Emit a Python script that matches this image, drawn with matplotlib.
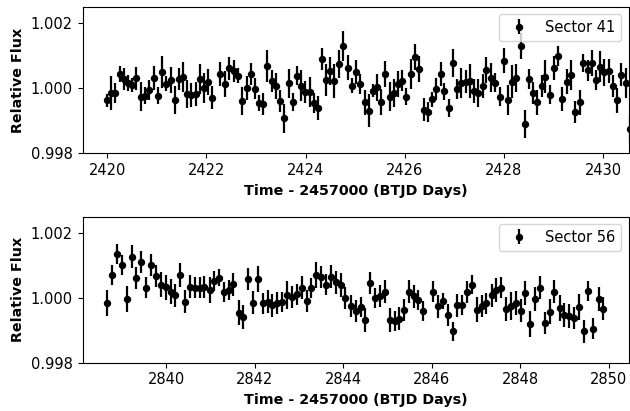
import numpy as np
import matplotlib
matplotlib.use("Agg")
import matplotlib.pyplot as plt

# Sector 41
t41 = [2420.00, 2420.07, 2420.16, 2420.25, 2420.33, 2420.41, 2420.50, 2420.58, 2420.68, 2420.77,
       2420.85, 2420.94, 2421.02, 2421.11, 2421.19, 2421.28, 2421.36, 2421.44, 2421.53, 2421.61,
       2421.69, 2421.78, 2421.87, 2421.95, 2422.03, 2422.12, 2422.28, 2422.38, 2422.46, 2422.55,
       2422.63, 2422.72, 2422.81, 2422.89, 2422.97, 2423.06, 2423.15, 2423.23, 2423.32, 2423.40,
       2423.49, 2423.57, 2423.66, 2423.74, 2423.83, 2423.91, 2423.99, 2424.08, 2424.16, 2424.25,
       2424.33, 2424.42, 2424.50, 2424.58, 2424.67, 2424.76, 2424.85, 2424.93, 2425.02, 2425.09,
       2425.19, 2425.28, 2425.36, 2425.44, 2425.53, 2425.61, 2425.70, 2425.79, 2425.87, 2425.95,
       2426.03, 2426.12, 2426.20, 2426.29, 2426.38, 2426.47, 2426.55, 2426.64, 2426.73, 2426.80,
       2426.89, 2426.97, 2427.06, 2427.14, 2427.23, 2427.32, 2427.40, 2427.48, 2427.57, 2427.65,
       2427.75, 2427.83, 2427.92, 2428.00, 2428.08, 2428.16, 2428.25, 2428.34, 2428.42, 2428.51,
       2428.59, 2428.67, 2428.76, 2428.84, 2428.93, 2429.02, 2429.10, 2429.18, 2429.27, 2429.36,
       2429.44, 2429.53, 2429.60, 2429.70, 2429.77, 2429.86, 2429.95, 2430.03, 2430.12, 2430.20,
       2430.28, 2430.37, 2430.46, 2430.54]
f41 = [0.99962, 0.99985, 0.99985, 1.00043, 1.00028, 1.00015, 1.00010, 1.00030, 0.99974, 0.99977,
       0.99995, 1.00032, 0.99977, 1.00050, 1.00013, 1.00025, 0.99964, 1.00028, 1.00034, 0.99982,
       0.99980, 0.99982, 1.00028, 1.00000, 1.00020, 0.99971, 1.00044, 1.00013, 1.00061, 1.00053,
       1.00038, 0.99961, 1.00000, 1.00043, 0.99998, 0.99954, 0.99952, 1.00069, 1.00022, 1.00007,
       0.99961, 0.99907, 1.00015, 0.99958, 1.00038, 1.00007, 0.99989, 0.99989, 0.99954, 0.99938,
       1.00089, 1.00025, 1.00053, 1.00022, 1.00073, 1.00130, 1.00063, 1.00007, 1.00050, 1.00012,
       0.99957, 0.99931, 0.99992, 1.00002, 0.99956, 1.00044, 0.99974, 0.99985, 1.00012, 1.00023,
       0.99974, 1.00044, 1.00096, 1.00058, 0.99934, 0.99926, 0.99966, 0.99998, 1.00044, 0.99990,
       0.99939, 1.00078, 0.99998, 1.00017, 1.00020, 1.00023, 0.99990, 0.99985, 1.00007, 1.00056,
       1.00032, 1.00017, 0.99973, 1.00084, 0.99964, 1.00020, 1.00030, 1.00129, 0.99890, 1.00028,
       0.99985, 0.99957, 1.00007, 1.00035, 0.99980, 1.00061, 1.00099, 0.99966, 1.00020, 1.00041,
       0.99926, 0.99957, 1.00078, 1.00054, 1.00076, 1.00025, 1.00066, 1.00048, 1.00053, 1.00007,
       0.99962, 1.00041, 1.00015, 0.99875]
e41 = [0.00020, 0.00052, 0.00030, 0.00025, 0.00033, 0.00025, 0.00022, 0.00035, 0.00045, 0.00025,
       0.00030, 0.00037, 0.00025, 0.00049, 0.00023, 0.00040, 0.00043, 0.00033, 0.00047, 0.00043,
       0.00037, 0.00038, 0.00045, 0.00045, 0.00040, 0.00036, 0.00037, 0.00040, 0.00035, 0.00033,
       0.00023, 0.00042, 0.00036, 0.00035, 0.00032, 0.00025, 0.00033, 0.00049, 0.00035, 0.00040,
       0.00033, 0.00045, 0.00044, 0.00028, 0.00030, 0.00048, 0.00034, 0.00046, 0.00031, 0.00037,
       0.00035, 0.00049, 0.00043, 0.00052, 0.00043, 0.00046, 0.00038, 0.00023, 0.00036, 0.00030,
       0.00038, 0.00050, 0.00020, 0.00042, 0.00040, 0.00040, 0.00044, 0.00043, 0.00039, 0.00033,
       0.00026, 0.00046, 0.00040, 0.00040, 0.00036, 0.00030, 0.00023, 0.00033, 0.00037, 0.00027,
       0.00028, 0.00043, 0.00030, 0.00046, 0.00036, 0.00052, 0.00037, 0.00044, 0.00037, 0.00040,
       0.00045, 0.00028, 0.00029, 0.00038, 0.00046, 0.00051, 0.00043, 0.00039, 0.00042, 0.00030,
       0.00033, 0.00038, 0.00034, 0.00050, 0.00028, 0.00036, 0.00030, 0.00036, 0.00038, 0.00046,
       0.00034, 0.00038, 0.00028, 0.00033, 0.00040, 0.00030, 0.00048, 0.00042, 0.00036, 0.00034,
       0.00038, 0.00036, 0.00046, 0.00040]

# Sector 56
t56 = [2838.67, 2838.77, 2838.89, 2839.00, 2839.11, 2839.22, 2839.32, 2839.44, 2839.55, 2839.66,
       2839.77, 2839.88, 2839.99, 2840.10, 2840.21, 2840.32, 2840.43, 2840.53, 2840.64, 2840.76,
       2840.86, 2840.98, 2841.08, 2841.19, 2841.31, 2841.41, 2841.52, 2841.64, 2841.74, 2841.85,
       2841.97, 2842.07, 2842.18, 2842.29, 2842.40, 2842.51, 2842.62, 2842.73, 2842.84, 2842.95,
       2843.06, 2843.17, 2843.28, 2843.39, 2843.50, 2843.61, 2843.72, 2843.84, 2843.94, 2844.05,
       2844.17, 2844.28, 2844.39, 2844.50, 2844.60, 2844.71, 2844.83, 2844.94, 2845.05, 2845.16,
       2845.26, 2845.37, 2845.49, 2845.59, 2845.70, 2845.81, 2846.03, 2846.14, 2846.25, 2846.36,
       2846.47, 2846.58, 2846.69, 2846.79, 2846.91, 2847.02, 2847.13, 2847.23, 2847.35, 2847.45,
       2847.56, 2847.67, 2847.78, 2847.90, 2848.01, 2848.11, 2848.23, 2848.33, 2848.45, 2848.55,
       2848.66, 2848.77, 2848.89, 2848.99, 2849.11, 2849.21, 2849.32, 2849.43, 2849.54, 2849.65,
       2849.77, 2849.87]
f56 = [0.99983, 1.00070, 1.00135, 1.00101, 0.99995, 1.00127, 1.00060, 1.00110, 1.00031, 1.00101,
       1.00068, 1.00041, 1.00032, 1.00019, 1.00008, 1.00070, 0.99988, 1.00034, 1.00031, 1.00031,
       1.00034, 1.00024, 1.00052, 1.00062, 1.00017, 1.00024, 1.00042, 0.99954, 0.99941, 1.00058,
       0.99985, 1.00058, 0.99983, 0.99988, 0.99977, 0.99983, 0.99988, 1.00008, 1.00003, 1.00011,
       1.00031, 0.99990, 1.00031, 1.00070, 1.00063, 1.00041, 1.00065, 1.00048, 1.00039, 1.00000,
       0.99974, 0.99959, 0.99972, 0.99931, 1.00046, 1.00000, 1.00005, 1.00019, 0.99933, 0.99929,
       0.99936, 0.99962, 1.00019, 1.00005, 0.99993, 0.99960, 1.00019, 0.99974, 0.99990, 0.99946,
       0.99897, 0.99977, 0.99977, 1.00019, 1.00041, 0.99964, 0.99975, 0.99983, 1.00008, 1.00024,
       1.00031, 0.99965, 0.99974, 0.99983, 0.99960, 1.00014, 0.99919, 0.99996, 1.00031, 0.99923,
       0.99957, 1.00019, 0.99969, 0.99946, 0.99944, 0.99938, 0.99972, 0.99897, 1.00021, 0.99905,
       0.99996, 0.99967]
e56 = [0.00040, 0.00031, 0.00031, 0.00031, 0.00040, 0.00035, 0.00034, 0.00034, 0.00032, 0.00035,
       0.00034, 0.00039, 0.00039, 0.00038, 0.00035, 0.00038, 0.00035, 0.00036, 0.00032, 0.00033,
       0.00034, 0.00039, 0.00032, 0.00026, 0.00031, 0.00030, 0.00035, 0.00039, 0.00036, 0.00035,
       0.00036, 0.00039, 0.00033, 0.00036, 0.00036, 0.00034, 0.00031, 0.00043, 0.00034, 0.00032,
       0.00035, 0.00033, 0.00031, 0.00040, 0.00034, 0.00031, 0.00036, 0.00036, 0.00036, 0.00033,
       0.00034, 0.00035, 0.00030, 0.00037, 0.00034, 0.00030, 0.00034, 0.00035, 0.00037, 0.00031,
       0.00036, 0.00034, 0.00036, 0.00035, 0.00031, 0.00031, 0.00033, 0.00035, 0.00024, 0.00034,
       0.00030, 0.00036, 0.00031, 0.00034, 0.00030, 0.00039, 0.00035, 0.00033, 0.00035, 0.00038,
       0.00032, 0.00036, 0.00043, 0.00037, 0.00036, 0.00037, 0.00039, 0.00038, 0.00035, 0.00033,
       0.00039, 0.00036, 0.00039, 0.00037, 0.00038, 0.00034, 0.00040, 0.00035, 0.00032, 0.00032,
       0.00036, 0.00036]

fig = plt.figure(figsize=(6.3, 4.11), dpi=100)
ax1 = fig.add_axes([0.131, 0.627, 0.867, 0.357])
ax2 = fig.add_axes([0.131, 0.1175, 0.867, 0.3552])

for ax, t, f, e, lab in [(ax1, t41, f41, e41, "Sector 41"), (ax2, t56, f56, e56, "Sector 56")]:
    ax.errorbar(t, f, yerr=e, fmt='o', color='k', ms=4.3, elinewidth=1.6, capsize=0, label=lab)
    ax.set_ylim(0.998, 1.0025)
    ax.set_yticks([0.998, 1.000, 1.002])
    ax.set_yticklabels(["0.998", "1.000", "1.002"])
    ax.tick_params(labelsize=10.5)
    ax.set_ylabel("Relative Flux", fontsize=10.3, fontweight='bold')
    ax.set_xlabel("Time - 2457000 (BTJD Days)", fontsize=10.3, fontweight='bold')
    ax.legend(loc='upper right', fontsize=10.5)

ax1.set_xlim(2419.5, 2430.52)
ax1.set_xticks([2420, 2422, 2424, 2426, 2428, 2430])
ax2.set_xlim(2838.11, 2850.45)
ax2.set_xticks([2840, 2842, 2844, 2846, 2848, 2850])

fig.savefig("out.png", dpi=100)
